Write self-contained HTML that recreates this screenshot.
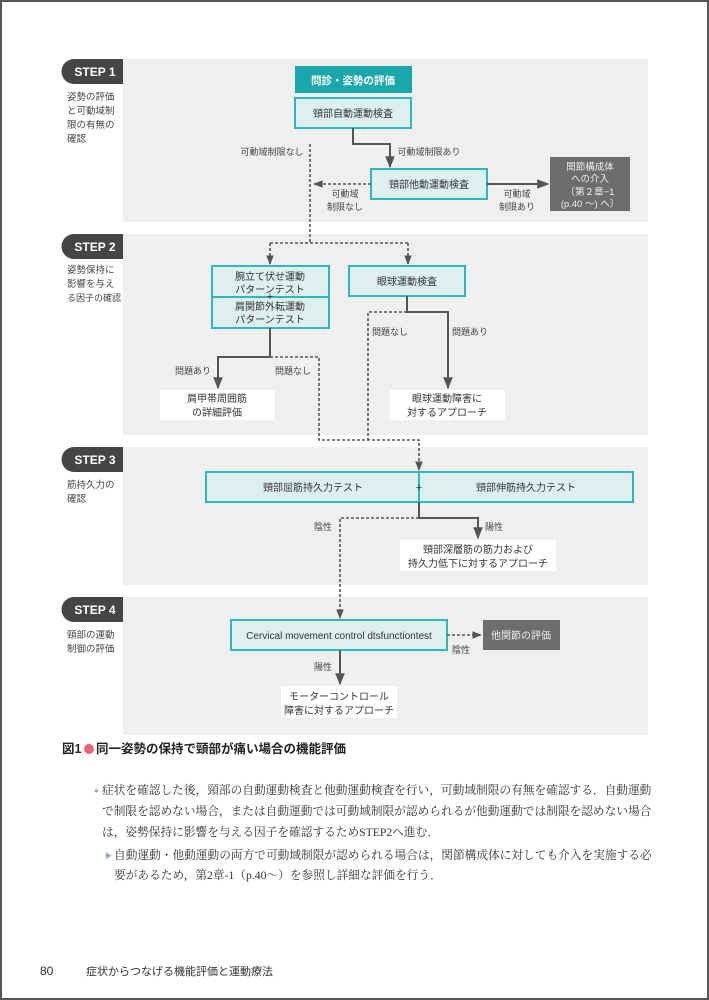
<!DOCTYPE html>
<html><head><meta charset="utf-8"><style>
html,body{margin:0;padding:0;background:#fff}
body{width:709px;height:1000px;position:relative;overflow:hidden}
.frame{position:absolute;left:0;top:0;width:705px;height:996px;border:2px solid #555}
svg{position:absolute;left:0;top:0}
text{font-family:"Liberation Sans","Noto Sans CJK JP",sans-serif}
</style></head><body>
<div class="frame"></div>
<svg width="709" height="1000" viewBox="0 0 709 1000">
<defs>
<marker id="a" viewBox="0 0 10 10" refX="9" refY="5" markerWidth="6" markerHeight="6" orient="auto"><path d="M0,1 L10,5 L0,9 z" fill="#555"/></marker>
</defs>
<g fill="#efefef">
<rect x="123" y="59" width="525" height="163"/>
<rect x="123" y="234" width="525" height="201"/>
<rect x="123" y="447" width="525" height="138"/>
<rect x="123" y="597" width="525" height="138"/>
</g>
<g fill="#454545">
<path d="M74,59 H123 V84 H74 A12.5,12.5 0 0 1 74,59 z"/>
<path d="M74,234 H123 V259 H74 A12.5,12.5 0 0 1 74,234 z"/>
<path d="M74,447 H123 V472 H74 A12.5,12.5 0 0 1 74,447 z"/>
<path d="M74,597 H123 V622 H74 A12.5,12.5 0 0 1 74,597 z"/>
</g>
<g fill="#fff" font-size="12" font-weight="bold" text-anchor="middle">
<text x="95" y="76">STEP 1</text><text x="95" y="251">STEP 2</text><text x="95" y="464">STEP 3</text><text x="95" y="614">STEP 4</text>
</g>
<g fill="#444" font-size="9.5">
<text x="67" y="100">姿勢の評価</text><text x="67" y="114">と可動域制</text><text x="67" y="128">限の有無の</text><text x="67" y="142">確認</text>
<text x="67" y="273">姿勢保持に</text><text x="67" y="287">影響を与え</text><text x="67" y="301" font-size="9">る因子の確認</text>
<text x="67" y="488">筋持久力の</text><text x="67" y="502">確認</text>
<text x="67" y="638">頸部の運動</text><text x="67" y="652">制御の評価</text>
</g>
<rect x="295" y="66" width="117" height="27" fill="#1aa7ab"/>
<text x="353" y="84" fill="#fff" font-size="10.5" font-weight="bold" text-anchor="middle">問診・姿勢の評価</text>
<g fill="#ddf0ef" stroke="#2bb8be" stroke-width="2">
<rect x="295" y="98" width="116" height="30"/>
<rect x="371" y="169" width="116" height="30"/>
<rect x="212" y="266" width="117" height="62"/>
<rect x="349" y="266" width="116" height="30"/>
<rect x="206" y="472" width="427" height="30"/>
<rect x="231" y="620" width="216" height="30"/>
</g>
<line x1="212" y1="297" x2="329" y2="297" stroke="#2bb8be" stroke-width="2"/>
<line x1="419" y1="472" x2="419" y2="502" stroke="#2bb8be" stroke-width="2"/>
<g fill="#6d6d6d"><rect x="550" y="157" width="80" height="54"/><rect x="483" y="620" width="77" height="30"/></g>
<g fill="#fff"><rect x="160" y="390" width="115" height="30"/><rect x="390" y="390" width="115" height="30"/><rect x="400" y="540" width="156" height="31"/><rect x="281" y="686" width="116" height="32"/></g>
<g fill="#333" font-size="10" text-anchor="middle">
<text x="353" y="117">頸部自動運動検査</text>
<text x="429" y="188">頸部他動運動検査</text>
<text x="270" y="280">腕立て伏せ運動</text><text x="270" y="293">パターンテスト</text>
<text x="270" y="300" font-size="11">+</text>
<text x="270" y="310">肩関節外転運動</text><text x="270" y="323">パターンテスト</text>
<text x="407" y="285">眼球運動検査</text>
<text x="217" y="402">肩甲帯周囲筋</text><text x="217" y="416">の詳細評価</text>
<text x="447" y="402">眼球運動障害に</text><text x="447" y="416">対するアプローチ</text>
<text x="313" y="491">頸部屈筋持久力テスト</text><text x="526" y="491">頸部伸筋持久力テスト</text>
<text x="419" y="491" font-size="11">+</text>
<text x="478" y="553">頸部深層筋の筋力および</text><text x="478" y="567">持久力低下に対するアプローチ</text>
<text x="339" y="639">Cervical movement control dtsfunctiontest</text>
<text x="339" y="700">モーターコントロール</text><text x="339" y="714">障害に対するアプローチ</text>
</g>
<g fill="#eee" font-size="9.5" text-anchor="middle">
<text x="590" y="170">関節構成体</text><text x="590" y="182">への介入</text><text x="590" y="195">〔第２章−1</text><text x="590" y="207">(p.40 〜) へ〕</text>
<text x="521" y="639" font-size="10">他関節の評価</text>
</g>
<g fill="#444" font-size="9" text-anchor="middle">
<text x="272" y="155">可動域制限なし</text><text x="429" y="155">可動域制限あり</text>
<text x="345" y="197">可動域</text><text x="345" y="210">制限なし</text>
<text x="517" y="197">可動域</text><text x="517" y="210">制限あり</text>
<text x="193" y="374">問題あり</text><text x="293" y="374">問題なし</text>
<text x="390" y="335">問題なし</text><text x="470" y="335">問題あり</text>
<text x="323" y="530">陰性</text><text x="494" y="530">陽性</text>
<text x="461" y="653">陰性</text><text x="323" y="670">陽性</text>
</g>
<g stroke="#555" stroke-width="2" fill="none">
<path d="M353,128 V144 H390 V167" marker-end="url(#a)"/>
<path d="M487,184 H548" marker-end="url(#a)"/>
<path d="M270,328 V357 H218 V388" marker-end="url(#a)"/>
<path d="M407,296 V312 H448 V388" marker-end="url(#a)"/>
<path d="M419,502 V518 H478 V538" marker-end="url(#a)"/>
<path d="M340,650 V684" marker-end="url(#a)"/>
</g>
<g stroke="#555" stroke-width="1.6" fill="none" stroke-dasharray="3,2">
<path d="M310,144 V243"/>
<path d="M371,184 H314" marker-end="url(#a)"/>
<path d="M270,243 H408"/>
<path d="M270,243 V264" marker-end="url(#a)"/>
<path d="M408,243 V264" marker-end="url(#a)"/>
<path d="M270,357 H319 V440 H419 V470" marker-end="url(#a)"/>
<path d="M407,312 H368 V440"/>
<path d="M419,518 H340 V618" marker-end="url(#a)"/>
<path d="M447,635 H481" marker-end="url(#a)"/>
</g>
<text x="62" y="753" font-size="12.5" font-weight="bold" fill="#222">図1</text>
<circle cx="89" cy="749" r="5" fill="#e8636f"/>
<text x="96" y="753" font-size="12.5" font-weight="bold" fill="#222">同一姿勢の保持で頸部が痛い場合の機能評価</text>
<g font-size="11.7" fill="#333">
<text x="94" y="793" fill="#9ab" font-size="8">●</text>
<text x="102" y="794" style="font-family:'Liberation Serif','Noto Serif CJK SC',serif">症状を確認した後，頸部の自動運動検査と他動運動検査を行い，可動域制限の有無を確認する．自動運動</text>
<text x="102" y="815" style="font-family:'Liberation Serif','Noto Serif CJK SC',serif">で制限を認めない場合，または自動運動では可動域制限が認められるが他動運動では制限を認めない場合</text>
<text x="102" y="836" style="font-family:'Liberation Serif','Noto Serif CJK SC',serif">は，姿勢保持に影響を与える因子を確認するためSTEP2へ進む．</text>
<text x="105" y="858" fill="#9ab" font-size="7">▶</text>
<text x="114" y="859" style="font-family:'Liberation Serif','Noto Serif CJK SC',serif">自動運動・他動運動の両方で可動域制限が認められる場合は，関節構成体に対しても介入を実施する必</text>
<text x="114" y="879" style="font-family:'Liberation Serif','Noto Serif CJK SC',serif">要があるため，第2章-1（p.40～）を参照し詳細な評価を行う．</text>
</g>
<text x="40" y="975" font-size="12" fill="#333">80</text>
<text x="86" y="975" font-size="11" fill="#333">症状からつなげる機能評価と運動療法</text>
</svg>
</body></html>
